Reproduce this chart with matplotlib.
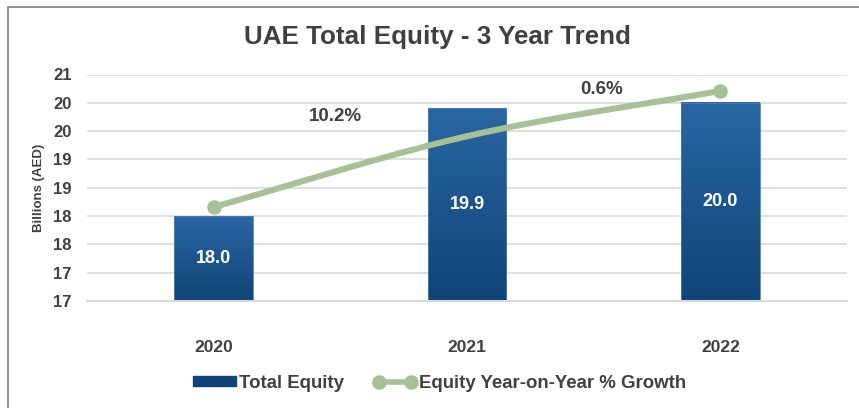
import numpy as np
import matplotlib
matplotlib.use("Agg")
import matplotlib.pyplot as plt
from matplotlib.patches import Rectangle, Patch
from matplotlib.lines import Line2D
from matplotlib.colors import LinearSegmentedColormap

# данные
years = ["2020", "2021", "2022"]
equity = [18.0, 19.9, 20.0]
trend_line = [18.16, 19.41, 20.21]      # положение линии роста (по картинке)
growth_labels = ["", "10.2%", "0.6%"]
growth_label_x = [0.0, 0.48, 1.53]
growth_label_y = [0.0, 19.75, 20.23]
y_ticks = [16.5, 17.0, 17.5, 18.0, 18.5, 19.0, 19.5, 20.0, 20.5]

text_col = "#404040"
bar_top = "#2a66a3"
bar_bot = "#0f4576"
line_col = "#a6c196"

plt.rcParams["font.family"] = ["Liberation Sans", "DejaVu Sans"]

fig = plt.figure(figsize=(8.59, 4.08), dpi=100)
fig.patches.append(Rectangle((8 / 859, -0.1), 1.2, (408 - 7) / 408 + 0.1,
                             transform=fig.transFigure, fill=False,
                             edgecolor="#7f7f7f", linewidth=1.2))

ax = fig.add_axes([87 / 859, 107 / 408, 760 / 859, 226.5 / 408])
x = np.arange(len(years))
w = 0.31

# бары с градиентом
cmap = LinearSegmentedColormap.from_list("bar", [bar_bot, bar_top])
grad = np.linspace(1, 0, 100).reshape(-1, 1)
for xi, v in zip(x, equity):
    ax.imshow(grad, cmap=cmap, extent=[xi - w / 2, xi + w / 2, 16.5, v],
              aspect="auto", zorder=2, vmin=0, vmax=1)
    ax.add_patch(Rectangle((xi - w / 2, 16.5), w, v - 16.5, fill=False,
                           edgecolor="#4a7fb5", linewidth=0.6, zorder=2))
    ax.text(xi, (16.5 + v) / 2, f"{v:.1f}", ha="center", va="center",
            color="white", fontsize=13, fontweight="bold", zorder=3)

# сглаженная линия (Catmull-Rom)
pts = np.column_stack([x, trend_line]).astype(float)
ext = np.vstack([2 * pts[0] - pts[1], pts, 2 * pts[-1] - pts[-2]])
curve = []
for i in range(1, len(ext) - 2):
    p0, p1, p2, p3 = ext[i - 1], ext[i], ext[i + 1], ext[i + 2]
    for t in np.linspace(0, 1, 40):
        curve.append(0.5 * ((2 * p1) + (-p0 + p2) * t
                            + (2 * p0 - 5 * p1 + 4 * p2 - p3) * t ** 2
                            + (-p0 + 3 * p1 - 3 * p2 + p3) * t ** 3))
curve = np.array(curve)
ax.plot(curve[:, 0], curve[:, 1], color=line_col, linewidth=4.4,
        solid_capstyle="round", zorder=4)
ax.plot([x[0], x[-1]], [trend_line[0], trend_line[-1]], "o",
        color=line_col, markersize=9.5, zorder=5)

for lx, ly, lab in zip(growth_label_x, growth_label_y, growth_labels):
    if lab:
        ax.text(lx, ly, lab, ha="center", va="center", color=text_col,
                fontsize=13.5, fontweight="bold", zorder=6)

ax.set_xlim(-0.5, 2.5)
ax.set_ylim(16.5, 20.5)
ax.set_yticks(y_ticks)
ax.set_yticklabels([str(int(np.floor(v + 0.5))) for v in y_ticks])
ax.set_xticks(x)
ax.set_xticklabels(years)
ax.tick_params(axis="both", length=0, labelsize=12, labelcolor=text_col)
ax.tick_params(axis="x", labelsize=12.5, pad=28)
ax.tick_params(axis="y", pad=11)
for lab in ax.get_xticklabels() + ax.get_yticklabels():
    lab.set_fontweight("bold")
ax.grid(axis="y", color="#d9d9d9", linewidth=1.2, zorder=0)
ax.set_axisbelow(True)
for s in ["top", "right", "left"]:
    ax.spines[s].set_visible(False)
ax.spines["bottom"].set_color("#d9d9d9")
ax.spines["bottom"].set_linewidth(1.5)
ax.set_ylabel("Billions (AED)", fontsize=9.5, fontweight="bold",
              color=text_col, labelpad=6)

fig.text(437 / 859, 1 - 37 / 408, "UAE Total Equity - 3 Year Trend",
         ha="center", va="center", fontsize=18.7, fontweight="bold",
         color=text_col)

handles = [Patch(facecolor=bar_bot, edgecolor=bar_bot),
           Line2D([0], [0], color=line_col, linewidth=4, marker="o",
                  markersize=9.5)]
fig.legend(handles, ["Total Equity", "Equity Year-on-Year % Growth"],
           loc="center", bbox_to_anchor=(440 / 859, 1 - 383 / 408),
           ncol=2, frameon=False, numpoints=2, handlelength=2.3,
           handleheight=0.5, columnspacing=1.6, handletextpad=0.15,
           prop={"weight": "bold", "size": 13.4}, labelcolor=text_col)

fig.savefig("out.png", dpi=100)
